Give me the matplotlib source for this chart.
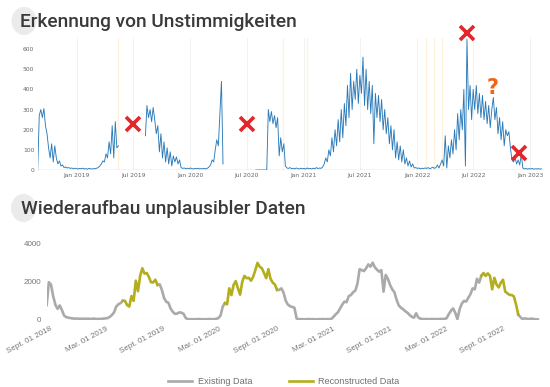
import numpy as np
import pandas as pd
import matplotlib
matplotlib.use("Agg")
import matplotlib.pyplot as plt
import matplotlib.dates as mdates
from matplotlib.lines import Line2D
from matplotlib.patches import Ellipse

# ---- top chart: daily counts, sampled every 5 days, three segments with gaps ----
step_days = 5
seg1_start = "2018-08-28"
seg1_values = [0, 270, 300, 260, 305, 220, 180, 110, 60, 130, 40, 120, 60, 30, 45, 20, 25, 12,
               15, 10, 12, 8, 10, 6, 9, 7, 5, 8, 6, 9, 5, 7, 4, 8, 6, 5, 7, 6, 9, 12, 20, 30,
               45, 40, 80, 60, 140, 80, 220, 60, 240, 110, 120]
seg2_start = "2019-08-10"
seg2_values = [170, 320, 260, 300, 240, 310, 250, 180, 220, 90, 180, 60, 140, 40, 110, 30, 90,
               20, 70, 40, 65, 30, 50, 12, 8, 10, 6, 9, 6, 10, 7, 5, 8, 6, 9, 5, 7, 6, 8, 5, 9,
               15, 25, 50, 40, 100, 150, 120, 280, 440, 30]
seg3_start = "2020-07-31"
seg3_values = [0, 0, 0, 0, 0, 0, 0, 0,
               300, 240, 290, 230, 270, 210, 260, 70, 160, 90, 130,
               20, 10, 8, 12, 6, 9,
               5, 10, 7, 5, 9, 6,
               8, 5, 10, 6, 8, 5,
               9, 6, 12, 7, 10, 8,
               15, 30, 60, 40, 100, 70,
               160, 90, 200, 120, 250, 140,
               300, 160, 330, 220, 420, 260,
               480, 300, 440, 350, 500, 330,
               470, 380, 560, 320, 500, 300, 440,
               280, 420, 130, 380, 260, 370,
               240, 350, 200, 300, 180, 260,
               130, 220, 100, 200, 60, 140,
               50, 120, 40, 100, 30, 60,
               20, 45, 15, 30, 10, 12,
               8, 10, 6, 9, 7, 10,
               8, 12, 6, 10, 14, 8,
               12, 25, 10, 30, 50, 20,
               170, 10, 120, 60, 150, 80,
               200, 100, 280, 150, 300, 200,
               400, 20, 650, 300, 420, 250,
               400, 300, 420, 280, 380, 260, 370,
               250, 340, 230, 320, 210, 300,
               360, 250, 310, 180, 260, 150,
               240, 120, 200, 170, 190, 110,
               50, 40, 60, 30, 50, 25,
               80, 10, 5, 8, 4, 7,
               5, 8, 4, 6, 5, 7,
               4, 6]

anomaly_dates = ["2019-05-15", "2020-10-27", "2021-01-11", "2022-01-31", "2022-02-25", "2022-03-23"]
cross_dates = ["2019-07-01", "2020-07-01", "2022-06-11", "2022-11-27"]
cross_values = [228, 228, 680, 84]
question_date = "2022-09-01"
question_value = 406

# ---- bottom chart: weekly values ----
weekly_start = "2018-08-23"
weekly_values = [780, 1970, 1840, 1230, 800, 580, 760, 520, 230, 150, 120, 100, 80, 70, 75, 60,
                 70, 65, 60, 70, 55, 60, 70, 50, 60, 55, 70, 80, 100, 160, 260, 400, 700, 820,
                 880, 1000, 1000, 780, 700, 1250, 1000, 2050, 1500, 2300, 2700, 2420, 2450, 2250,
                 1970, 1960, 2100, 1830, 1860, 1570, 1150, 950, 900, 600, 430, 320, 330, 400, 380,
                 320, 100, 40, 40, 45, 35, 40, 50, 40, 35, 45, 40, 50, 40, 45, 60, 100, 230, 700,
                 880, 820, 1650, 1300, 1830, 2030, 1650, 1320, 2000, 2300, 2180, 2200, 2050, 2250,
                 2600, 2980, 2780, 2700, 2450, 2180, 2650, 2150, 1950, 1850, 1570, 1570, 1650,
                 1420, 1000, 800, 720, 680, 640, 80, 40, 45, 40, 35, 50, 40, 45, 40, 35, 45, 40,
                 50, 40, 45, 40, 60, 170, 300, 400, 600, 800, 960, 930, 1250, 1300, 1450, 1530,
                 1900, 2650, 2600, 2550, 2700, 2900, 2780, 2990, 2750, 2620, 2520, 2600, 1480,
                 2350, 2150, 1830, 1600, 1450, 1060, 760, 640, 560, 460, 380, 260, 170, 120, 350,
                 130, 70, 50, 45, 50, 40, 55, 45, 50, 40, 60, 50, 55, 90, 300, 480, 600, 380, 50,
                 560, 850, 1000, 960, 1150, 1350, 1650, 1600, 2150, 1950, 2300, 2450, 2300, 2430,
                 2300, 1600, 2200, 1850, 1700, 1950, 2100, 1480, 1390, 1310, 1300, 1230, 800, 280,
                 150, 40, 90, 60, 50, 70, 50, 35, 30]
reconstructed_spans = [("2019-04-25", "2019-08-15"), ("2020-03-19", "2020-09-03"),
                       ("2022-06-23", "2022-10-20")]
bottom_ticks = ["2018-09-01", "2019-03-01", "2019-09-01", "2020-03-01", "2020-09-01",
                "2021-03-01", "2021-09-01", "2022-03-01", "2022-09-01"]
bottom_tick_labels = ["Sept. 01 2018", "Mar. 01 2019", "Sept. 01 2019", "Mar. 01 2020",
                      "Sept. 01 2020", "Mar. 01 2021", "Sept. 01 2021", "Mar. 01 2022",
                      "Sept. 01 2022"]

W, H = 550, 387
fig = plt.figure(figsize=(W / 100, H / 100), dpi=100)
title_font = ["Roboto", "DejaVu Sans"]


def fx(px):
    return px / W


def fy(py):
    return 1 - py / H


# decorative blobs behind titles
for cx, cy in [(24, 21), (23.5, 208)]:
    fig.patches.append(Ellipse((fx(cx), fy(cy)), 25 / W, 28 / H, transform=fig.transFigure,
                               facecolor="#ebebeb", edgecolor="none", zorder=0))
fig.text(fx(20), fy(27), "Erkennung von Unstimmigkeiten", fontsize=13.8, color="#3a3a3a",
         family=title_font, fontweight="medium", va="baseline")
fig.text(fx(21), fy(214), "Wiederaufbau unplausibler Daten", fontsize=13.8, color="#3a3a3a",
         family=title_font, fontweight="medium", va="baseline")

# ---- top axes ----
ax1 = fig.add_axes([fx(37.7), fy(170), fx(542.7) - fx(37.7), fy(38) - fy(170)])
for start, vals in [(seg1_start, seg1_values), (seg2_start, seg2_values), (seg3_start, seg3_values)]:
    dates = pd.date_range(start, periods=len(vals), freq=f"{step_days}D")
    ax1.plot(dates, vals, color="#2b7bba", lw=0.65, zorder=3)
for d in anomaly_dates:
    ax1.axvline(pd.Timestamp(d), color="#fdf1dc", lw=0.9, zorder=1)
ax1.axhline(0, color="#aaaaaa", lw=0.9, zorder=2)
ax1.plot(pd.to_datetime(cross_dates), cross_values, "x", color="#e3262a", ms=9.5, mew=2.6,
         clip_on=False, zorder=5)
ax1.text(pd.Timestamp(question_date), question_value, "?", color="#f06418", fontsize=15,
         fontweight="bold", ha="center", va="center", zorder=5)
ax1.set_xlim(pd.Timestamp("2018-08-28"), pd.Timestamp("2023-02-10"))
ax1.set_ylim(0, 655)
ax1.set_yticks(range(0, 700, 100))
ax1.xaxis.set_major_locator(mdates.MonthLocator(bymonth=[1, 7]))
ax1.xaxis.set_major_formatter(mdates.DateFormatter("%b %Y"))
ax1.grid(axis="x", color="#f0f0f0", lw=0.6, zorder=0)
ax1.tick_params(length=0, labelsize=4.3, labelcolor="#666666", pad=2.5)
for s in ax1.spines.values():
    s.set_visible(False)

# ---- bottom axes ----
ax2 = fig.add_axes([fx(46.7), fy(320), fx(540) - fx(46.7), fy(243.3) - fy(320)])
wdates = pd.date_range(weekly_start, periods=len(weekly_values), freq="7D")
wvals = np.array(weekly_values, dtype=float)
recon_mask = np.zeros(len(wvals), dtype=bool)
inner_mask = np.zeros(len(wvals), dtype=bool)
for a, b in reconstructed_spans:
    a, b = pd.Timestamp(a), pd.Timestamp(b)
    recon_mask |= (wdates >= a) & (wdates <= b)
    inner_mask |= (wdates > a) & (wdates < b)
existing = np.where(inner_mask, np.nan, wvals)
reconstructed = np.where(recon_mask, wvals, np.nan)
ax2.axhline(0, color="#e0e0e0", lw=0.8, zorder=1)
ax2.plot(wdates, existing, color="#aaaaaa", lw=1.9, solid_joinstyle="round", zorder=2)
ax2.plot(wdates, reconstructed, color="#b3ae1c", lw=1.9, solid_joinstyle="round", zorder=3)
ax2.set_xlim(pd.Timestamp("2018-08-23"), pd.Timestamp("2022-12-29"))
ax2.set_ylim(0, 4000)
ax2.set_yticks([0, 2000, 4000])
ax2.set_xticks(pd.to_datetime(bottom_ticks))
ax2.set_xticklabels(bottom_tick_labels, rotation=28, ha="right", rotation_mode="anchor")
ax2.tick_params(length=0, labelsize=5.8, labelcolor="#777777", pad=4)
for lab in ax2.get_xticklabels() + ax2.get_yticklabels():
    lab.set_family(["Liberation Sans", "DejaVu Sans"])
for s in ax2.spines.values():
    s.set_visible(False)

handles = [Line2D([], [], color="#aaaaaa", lw=1.9), Line2D([], [], color="#b3ae1c", lw=1.9)]
fig.legend(handles, ["Existing Data", "Reconstructed Data"], loc="center",
           bbox_to_anchor=(fx(284), fy(381.5)), ncol=2, frameon=False, handlelength=2.6,
           handletextpad=0.6, columnspacing=4.0, prop={"family": "Liberation Sans", "size": 6.6},
           labelcolor="#707070")

fig.savefig("out.png", dpi=100)
